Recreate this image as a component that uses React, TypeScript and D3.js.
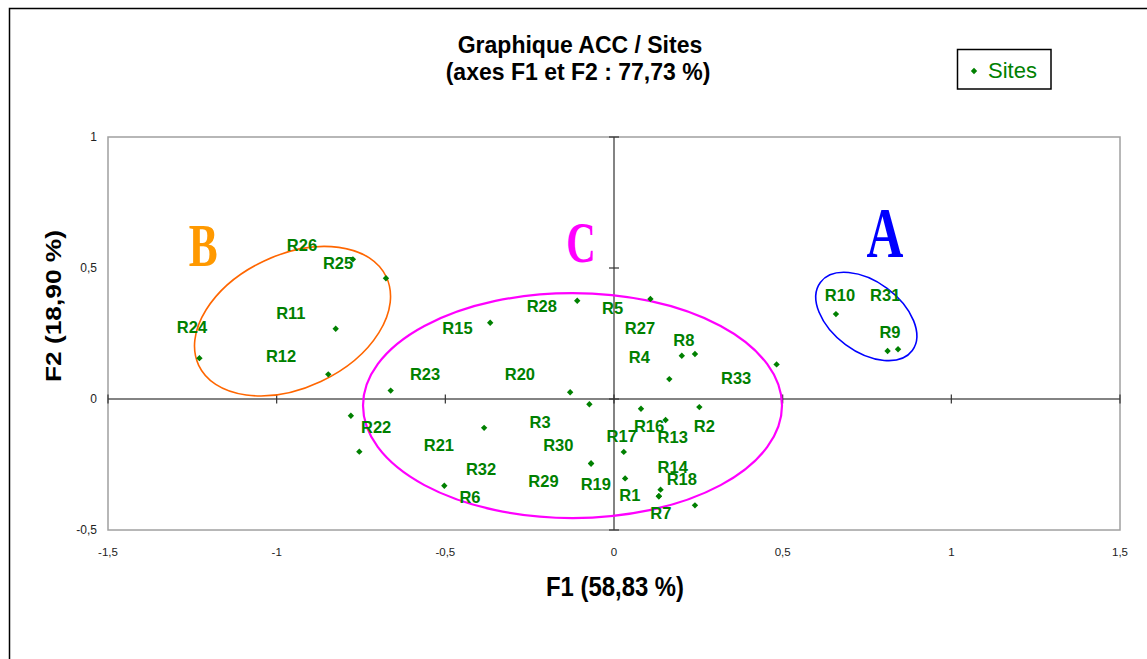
import React from "react";
import * as d3 from "d3";

// ---- data (F1, F2 coordinates) ----
const siteNames = ["R1","R2","R3","R4","R5","R6","R7","R8","R9","R10","R11","R12","R13","R14","R15","R16","R17","R18","R19","R20","R21","R22","R23","R24","R25","R26","R27","R28","R29","R30","R31","R32","R33"];
const siteF1 = [0.133,0.253,-0.073,0.164,0.108,-0.755,0.133,0.240,0.811,0.658,-0.825,-0.847,0.153,0.138,-0.367,0.080,0.029,0.240,0.033,-0.130,-0.385,-0.780,-0.662,-1.229,-0.774,-0.676,0.201,-0.109,-0.068,-0.068,0.842,-0.503,0.482];
const siteF2 = [-0.371,-0.031,-0.020,0.076,0.382,-0.201,-0.371,0.172,0.183,0.324,0.268,0.094,-0.080,-0.346,0.291,-0.037,-0.202,-0.406,-0.303,0.026,-0.110,-0.064,0.032,0.156,0.533,0.461,0.165,0.375,-0.246,-0.246,0.190,-0.331,0.132];
// label anchors (data units) as placed in the original chart
const labelF1 = [0.047,0.268,-0.219,0.075,-0.004,-0.427,0.139,0.207,0.818,0.670,-0.958,-0.987,0.174,0.174,-0.464,0.104,0.023,0.201,-0.054,-0.279,-0.519,-0.705,-0.560,-1.251,-0.818,-0.925,0.077,-0.214,-0.209,-0.165,0.804,-0.394,0.362];
const labelF2 = [-0.366,-0.102,-0.087,0.159,0.346,-0.375,-0.436,0.225,0.255,0.397,0.329,0.164,-0.144,-0.258,0.272,-0.102,-0.141,-0.305,-0.324,0.094,-0.176,-0.106,0.094,0.276,0.520,0.588,0.272,0.355,-0.313,-0.176,0.397,-0.268,0.081];

const xTicks = [-1.5, -1, -0.5, 0, 0.5, 1, 1.5];
const yTicks = [-0.5, 0, 0.5, 1];

// group annotations: letter, colour, centre (data), radii (px), tilt (deg)
const groupNames = ["A", "B", "C"];
const groupColors = ["#0000FF", "#FF6600", "#FF00FF"];
const groupLetterColors = ["#0000FF", "#FF9900", "#FF00FF"];
const groupCx = [0.748, -0.953, -0.123];
const groupCy = [0.315, 0.297, -0.025];
const groupLetterX = [0.803, -1.218, -0.098];
const groupLetterY = [0.542, 0.508, 0.523];

const W = 1147, H = 659;
const fmt = (v: number) => String(v).replace(".", ",");

export default function App() {
  const x = d3.scaleLinear().domain([-1.5, 1.5]).range([108, 1120]);
  const y = d3.scaleLinear().domain([-0.5, 1]).range([530, 137]);
  const diamond = d3.symbol(d3.symbolDiamond2, 26)()!;
  const green = "#008000";
  const ell = [
    { rx: 57.2, ry: 35, rot: 36.5, sw: 1.6, size: 72, sx: 0.71 },
    { rx: 103.7, ry: 66.6, rot: -25.2, sw: 1.6, size: 62, sx: 0.7 },
    { rx: 209.5, ry: 112.5, rot: 0, sw: 2.2, size: 56, sx: 0.73 },
  ];
  return (
    <svg width={W} height={H} style={{ position: "absolute", left: 0, top: 0, background: "#fff" }}
      fontFamily="'Liberation Sans', Arial, sans-serif">
      <rect x={9.5} y={8.5} width={1300} height={800} fill="#fff" stroke="#000" strokeWidth={1.5} />
      {/* title */}
      <text x={580} y={53} textAnchor="middle" fontSize={23} fontWeight="bold">Graphique ACC / Sites</text>
      <text x={578} y={80} textAnchor="middle" fontSize={23} fontWeight="bold">(axes F1 et F2 : 77,73 %)</text>
      {/* legend */}
      <rect x={957.5} y={49.5} width={93.5} height={39.5} fill="#fff" stroke="#000" strokeWidth={1.5} />
      <path d={diamond} transform="translate(974,71)" fill={green} />
      <text x={988} y={78} fontSize={22} fill={green}>Sites</text>
      {/* plot area */}
      <rect x={108} y={137} width={1012} height={393} fill="#fff" stroke="#a0a0a0" strokeWidth={1.5} />
      <line x1={x(-1.5)} x2={x(1.5)} y1={y(0)} y2={y(0)} stroke="#5a5a5a" strokeWidth={1.5} />
      <line x1={x(0)} x2={x(0)} y1={y(-0.5)} y2={y(1)} stroke="#5a5a5a" strokeWidth={1.5} />
      {xTicks.map((t) => (
        <g key={"xt" + t}>
          <line x1={x(t)} x2={x(t)} y1={y(0) - 4.5} y2={y(0) + 4.5} stroke="#333" strokeWidth={1.2} />
          <text x={x(t)} y={556} textAnchor="middle" fontSize={11.5} fill="#222">{fmt(t)}</text>
        </g>
      ))}
      {yTicks.map((t) => (
        <g key={"yt" + t}>
          <line x1={x(0) - 5} x2={x(0) + 5} y1={y(t)} y2={y(t)} stroke="#333" strokeWidth={1.2} />
          <text x={97} y={y(t)} dy="0.35em" textAnchor="end" fontSize={12} fill="#222">{fmt(t)}</text>
        </g>
      ))}
      {/* axis titles */}
      <text x={615} y={596} textAnchor="middle" fontSize={27} fontWeight="bold" textLength={138} lengthAdjust="spacingAndGlyphs">F1 (58,83 %)</text>
      <text transform="translate(61,306) rotate(-90)" textAnchor="middle" fontSize={22} fontWeight="bold" textLength={152} lengthAdjust="spacingAndGlyphs">F2 (18,90 %)</text>
      {/* group ellipses and letters */}
      {groupNames.map((g, i) => (
        <g key={g}>
          <ellipse cx={0} cy={0} rx={ell[i].rx} ry={ell[i].ry} fill="none" stroke={groupColors[i]} strokeWidth={ell[i].sw}
            transform={`translate(${x(groupCx[i])},${y(groupCy[i])}) rotate(${ell[i].rot})`} />
          <text transform={`translate(${x(groupLetterX[i])},${y(groupLetterY[i])}) scale(${ell[i].sx},1)`} textAnchor="middle"
            fontFamily="'Liberation Serif', 'Times New Roman', serif" fontWeight="bold" fontSize={ell[i].size} fill={groupLetterColors[i]}>{g}</text>
        </g>
      ))}
      {/* points */}
      {siteNames.map((n, i) => (
        <path key={"p" + n} d={diamond} transform={`translate(${x(siteF1[i])},${y(siteF2[i])})`} fill={green} />
      ))}
      {siteNames.map((n, i) => (
        <text key={"l" + n} x={x(labelF1[i])} y={y(labelF2[i])} dy="0.36em" textAnchor="middle" fontSize={16.5} fontWeight="bold" fill={green}>{n}</text>
      ))}
    </svg>
  );
}
